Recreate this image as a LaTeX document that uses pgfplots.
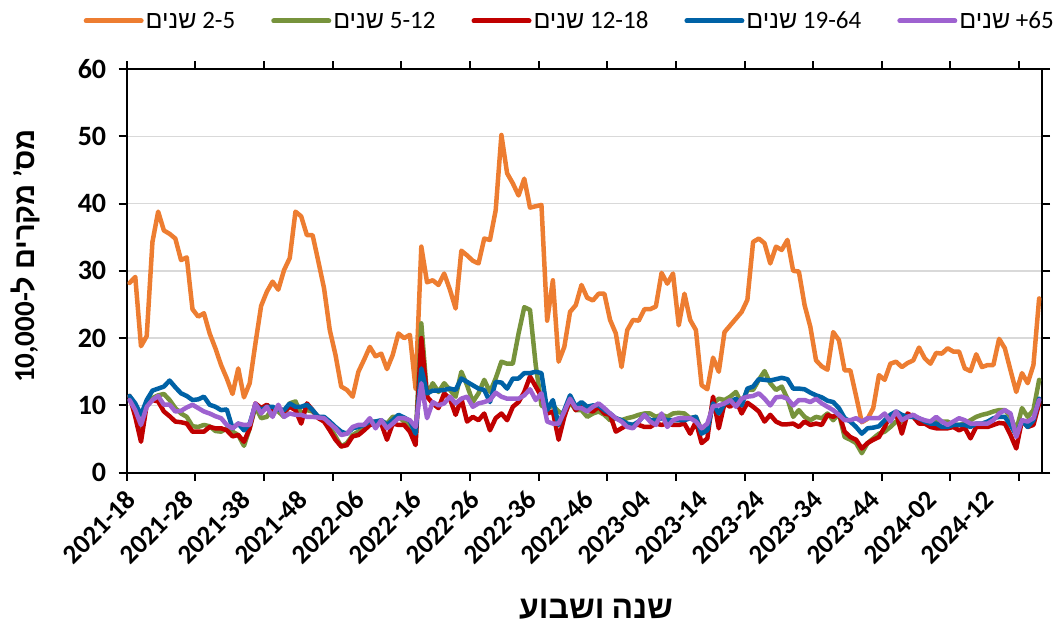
\documentclass[border=0pt]{standalone}
\usepackage{fontspec}
\setmainfont{Carlito}
\newfontfamily\heb[Script=Hebrew]{Liberation Sans}
\usepackage{pgfplots}
\usepackage{pgfplotstable}
\pgfplotsset{compat=1.18}
\definecolor{cO}{HTML}{ED7D31}
\definecolor{cG}{HTML}{77933C}
\definecolor{cR}{HTML}{C00000}
\definecolor{cB}{HTML}{0062A6}
\definecolor{cP}{HTML}{9E62D0}
\definecolor{gridc}{HTML}{D9D9D9}
\pgfplotstableread{
i o g r b p
0 28.2 11.4 11.4 11.4 10.8
1 29.1 9.3 8.3 10.3 9.3
2 18.8 6.8 4.6 8.6 7.1
3 20.3 10.3 10.1 10.8 9.8
4 34.3 11.1 10.8 12.2 10.8
5 38.8 11.5 10.6 12.5 11.4
6 36.0 11.7 9.1 12.8 10.1
7 35.5 10.8 8.4 13.7 10.1
8 34.8 9.6 7.6 12.7 9.1
9 31.6 8.8 7.5 11.8 9.2
10 32.0 8.3 7.3 11.4 9.7
11 24.3 6.9 6.1 10.8 10.1
12 23.2 6.8 6.1 10.9 9.6
13 23.7 7.1 6.1 11.3 9.1
14 20.7 6.9 6.8 10.1 8.8
15 18.5 6.2 6.6 9.8 8.4
16 16.0 6.1 6.6 9.3 8.1
17 14.0 6.6 6.3 9.4 7.1
18 11.7 6.1 5.4 6.6 6.6
19 15.5 5.6 5.6 7.3 7.3
20 11.2 4.0 4.6 6.3 7.1
21 13.3 6.6 6.6 7.3 7.1
22 19.2 9.8 10.3 10.1 10.3
23 24.8 8.1 9.6 9.3 8.8
24 26.9 8.3 10.1 9.8 9.8
25 28.4 9.6 9.3 9.8 8.3
26 27.2 9.1 9.7 9.4 10.1
27 30.1 8.3 9.1 9.3 8.3
28 31.9 10.3 9.8 10.3 8.8
29 38.8 10.6 9.3 9.8 8.6
30 38.1 8.8 7.3 9.8 8.6
31 35.3 9.3 10.3 10.1 8.3
32 35.3 9.1 9.3 9.3 8.3
33 31.4 8.3 8.1 8.3 8.2
34 27.4 7.8 7.6 8.3 8.1
35 21.2 6.8 6.3 7.6 7.3
36 17.5 5.4 4.9 6.8 6.6
37 12.8 3.9 3.9 6.1 5.6
38 12.3 4.4 4.1 5.8 5.8
39 11.3 5.6 5.4 6.6 6.8
40 15.0 6.1 5.6 6.8 7.1
41 16.8 6.6 6.3 7.1 7.1
42 18.7 7.3 7.1 7.6 8.1
43 17.3 7.6 7.3 7.6 6.6
44 17.7 7.7 7.3 7.8 7.8
45 15.4 7.3 4.9 7.1 6.6
46 17.5 8.3 7.3 7.8 7.3
47 20.7 8.3 7.1 8.6 8.1
48 20.0 7.6 7.1 8.2 8.1
49 20.5 7.1 6.1 7.7 7.8
50 12.5 5.1 4.1 5.8 6.8
51 33.6 22.2 20.0 15.5 13.3
52 28.3 11.5 11.3 11.8 8.1
53 28.6 13.3 10.3 12.2 10.5
54 27.9 12.0 9.6 12.2 10.0
55 29.6 13.3 11.8 12.3 10.3
56 27.2 12.3 11.0 12.5 11.3
57 24.4 11.3 8.6 12.3 10.3
58 33.0 15.0 11.0 14.0 11.0
59 32.3 13.0 7.6 13.5 11.3
60 31.5 10.5 8.3 13.0 9.8
61 31.1 11.8 7.8 12.5 10.3
62 34.8 13.8 8.8 12.3 10.5
63 34.6 12.0 6.3 10.5 10.8
64 39.0 14.0 8.1 13.5 11.9
65 50.2 16.5 8.8 13.4 11.3
66 44.5 16.2 7.8 12.5 11.0
67 43.0 16.2 9.8 14.0 11.0
68 41.2 20.7 10.5 14.0 11.0
69 43.7 24.6 12.0 14.8 11.5
70 39.4 24.2 14.3 14.8 12.4
71 39.6 16.0 12.8 15.0 10.8
72 39.8 10.0 11.3 14.8 11.8
73 22.6 9.5 8.8 9.3 7.6
74 28.6 10.0 9.1 10.8 7.3
75 16.5 9.1 4.9 7.1 7.3
76 18.7 8.6 8.3 9.3 9.1
77 23.9 10.5 11.0 11.5 11.0
78 24.9 9.3 9.3 9.8 9.6
79 27.9 9.3 10.0 10.5 9.6
80 26.0 8.3 9.3 9.8 9.1
81 25.6 8.8 9.1 10.0 9.8
82 26.6 9.1 9.8 10.0 10.3
83 26.6 8.6 8.8 9.3 9.6
84 22.7 7.8 8.6 8.8 8.8
85 20.7 8.1 6.1 8.1 8.1
86 15.7 7.8 6.6 7.8 7.6
87 21.2 8.1 7.1 7.3 6.8
88 22.7 8.3 7.1 7.1 6.6
89 22.6 8.6 7.1 7.6 7.6
90 24.3 8.8 6.8 8.6 8.6
91 24.3 8.8 6.8 7.8 7.6
92 24.7 8.3 7.3 7.8 7.1
93 29.7 8.6 7.1 8.1 8.8
94 28.1 8.3 7.3 7.8 6.8
95 29.6 8.8 7.1 7.8 7.8
96 21.9 8.9 7.1 7.8 8.1
97 26.6 8.8 7.3 7.8 8.1
98 22.7 8.1 5.8 8.1 8.1
99 21.2 8.3 7.6 8.3 7.6
100 13.0 6.3 4.4 5.8 6.6
101 12.4 6.6 5.1 6.3 7.3
102 17.1 10.3 11.3 10.3 9.9
103 15.0 11.0 6.6 8.8 10.0
104 20.9 10.8 10.3 10.3 10.3
105 21.9 11.3 9.8 10.5 10.8
106 22.9 12.0 10.8 11.0 9.8
107 23.9 10.3 8.8 10.0 11.0
108 25.7 12.3 10.4 12.5 11.3
109 34.3 12.3 9.8 12.8 11.4
110 34.8 13.8 9.1 13.9 11.8
111 34.1 15.1 7.6 13.8 11.0
112 31.1 13.3 8.6 13.7 10.0
113 33.6 12.3 7.6 13.9 11.2
114 33.1 12.8 7.2 14.1 11.3
115 34.6 11.0 7.2 13.9 11.0
116 30.0 8.3 7.3 12.5 10.0
117 29.9 9.3 6.8 12.5 10.8
118 24.9 8.3 7.6 12.4 10.8
119 21.7 7.8 7.1 11.9 10.5
120 16.7 8.3 7.3 11.5 11.0
121 15.8 8.1 7.1 11.2 10.3
122 15.3 8.8 8.6 10.7 9.8
123 20.9 7.8 8.3 10.5 9.3
124 19.7 8.8 8.8 9.6 8.6
125 15.2 5.3 6.1 8.1 7.8
126 15.2 4.9 5.3 7.6 7.8
127 11.4 4.4 4.9 6.8 8.1
128 7.5 2.9 3.6 5.8 7.6
129 8.0 4.4 4.4 6.6 8.1
130 9.6 5.1 4.9 6.7 8.1
131 14.5 5.8 5.3 6.9 8.1
132 13.8 6.1 6.8 7.8 8.8
133 16.2 6.8 8.6 8.6 7.6
134 16.5 7.6 8.8 9.1 9.1
135 15.7 7.6 5.8 8.6 7.8
136 16.3 8.3 8.8 8.3 8.3
137 16.7 8.6 8.3 8.3 8.6
138 18.6 7.6 7.3 8.1 8.1
139 17.0 7.6 7.3 7.6 7.8
140 16.2 7.6 6.8 7.3 7.6
141 17.8 7.8 6.6 7.3 8.3
142 17.7 7.6 6.6 6.8 7.6
143 18.5 7.6 6.6 6.8 7.1
144 18.0 7.1 6.8 7.1 7.6
145 18.0 7.1 6.3 7.1 8.1
146 15.5 7.3 6.7 7.1 7.8
147 15.1 7.8 5.1 6.8 7.3
148 17.6 8.3 6.8 7.3 7.3
149 15.7 8.6 6.8 7.3 7.3
150 16.0 8.8 6.8 7.6 7.3
151 16.0 9.1 7.1 8.1 7.8
152 19.9 9.3 7.4 8.3 8.8
153 18.5 9.3 7.3 8.3 9.3
154 15.2 8.3 5.6 7.1 8.8
155 12.0 6.3 3.6 5.6 5.3
156 14.8 9.6 7.8 7.8 7.8
157 13.3 8.3 6.8 6.8 7.6
158 16.0 9.3 7.1 7.8 8.1
159 25.9 13.8 10.3 11.0 10.8
}\data
\begin{document}
\begin{tikzpicture}
\useasboundingbox (-126.7pt,-151.3pt) rectangle (933.3pt,472.7pt);
\begin{axis}[
  at={(0pt,0pt)}, anchor=south west,
  width=915.3pt, height=403.7pt, scale only axis,
  xmin=-0.5, xmax=159.5, ymin=0, ymax=60,
  ytick={0,10,...,60},
  xtick={0,10,...,150},
  xticklabels={2021-18,2021-28,2021-38,2021-48,2022-06,2022-16,2022-26,2022-36,2022-46,2023-04,2023-14,2023-24,2023-34,2023-44,2024-02,2024-12},
  minor xtick={-0.5,11.5,...,155.5},
  tick align=outside,
  major tick length=8pt, minor tick length=8pt,
  major x tick style={draw=none},
  minor x tick style={black, line width=2pt},
  y tick style={black, line width=2pt},
  ymajorgrids, major grid style={color=gridc, line width=1.5pt},
  axis line style={black, line width=2pt},
  /pgf/number format/assume math mode=true,
  yticklabel style={font=\bfseries\fontsize{28}{30}\selectfont, xshift=-9pt},
  xticklabel style={font=\bfseries\fontsize{27}{30}\selectfont, xshift=4pt, yshift=-12pt, rotate=45, anchor=east},
  xlabel={{\heb\bfseries ושבוע} {\heb\bfseries שנה}},
  ylabel={10,000-{\heb ל} {\heb מקרים} '{\heb מס}},
  xlabel style={at={(axis description cs:0.5127,-0.3376)}, anchor=center, inner sep=0pt, font=\bfseries\fontsize{32}{34}\selectfont},
  ylabel style={at={(axis description cs:-0.1111,0.5368)}, anchor=center, inner sep=0pt, font=\bfseries\fontsize{29}{31}\selectfont},
  legend columns=5,
  legend cell align=left,
  legend style={at={(0.484,1.119)}, anchor=center, draw=none, fill=none, inner sep=0pt,
    font=\fontsize{25}{28}\selectfont,
    /tikz/every even column/.append style={column sep=34pt}},
  legend image code/.code={\draw[#1, line width=5pt, line cap=round] (0pt,0pt) -- (55pt,0pt);},
  every axis plot/.append style={line width=4.5pt, line join=round, line cap=round, no markers},
]
\addplot[cO] table[x=i, y=o] {\data};
\addlegendentry{{\heb שנים} 2-5}
\addplot[cG] table[x=i, y=g] {\data};
\addlegendentry{{\heb שנים} 5-12}
\addplot[cR] table[x=i, y=r] {\data};
\addlegendentry{{\heb שנים} 12-18}
\addplot[cB] table[x=i, y=b] {\data};
\addlegendentry{{\heb שנים} 19-64}
\addplot[cP] table[x=i, y=p] {\data};
\addlegendentry{{\heb שנים} +65}
\end{axis}
\end{tikzpicture}
\end{document}
